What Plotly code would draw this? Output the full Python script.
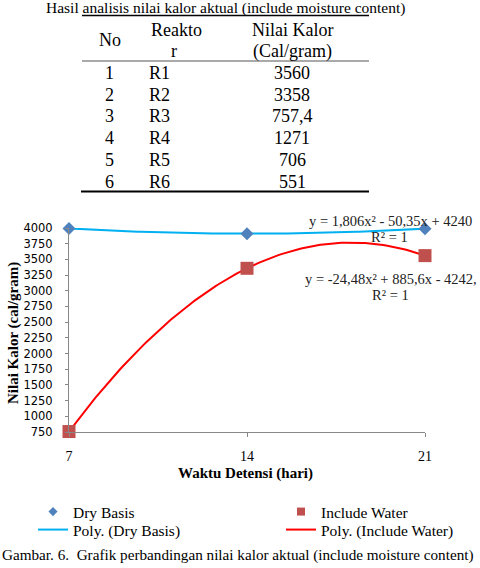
import numpy as np
import plotly.graph_objects as go

# ---------------- data ----------------
table_title = "Hasil analisis nilai kalor aktual (include moisture content)"
table_no = ["1", "2", "3", "4", "5", "6"]
table_reaktor = ["R1", "R2", "R3", "R4", "R5", "R6"]
table_nilai = ["3560", "3358", "757,4", "1271", "706", "551"]

waktu = [7, 14, 21]
dry_basis = [3993, 3910, 3990]
include_water = [757.4, 3358, 3560]

y_ticks = list(range(750, 4001, 250))
x_ticks = [7, 14, 21]

eq_dry = ["y = 1,806x² - 50,35x + 4240", "R² = 1"]
eq_water = ["y = -24,48x² + 885,6x - 4242,", "R² = 1"]
caption = "Gambar. 6.  Grafik perbandingan nilai kalor aktual (include moisture content)"

# ---------------- layout geometry ----------------
W, H = 480, 568
L, R, T, B = 69, 55, 228, 136
PW, PH = W - L - R, H - T - B


def px(x):
    return (x - L) / PW


def py(y):
    return (H - B - y) / PH


SERIF = "Liberation Serif, Times New Roman, serif"
BLUE_M = "#4F81BD"
RED_M = "#C0504D"
BLUE_L = "#00B0F0"
RED_L = "#FF0000"

fig = go.Figure()

# trendlines (2nd order polynomial fit of data)
xs = np.linspace(min(waktu), max(waktu), 120)
c_dry = np.polyfit(waktu, dry_basis, 2)
c_wat = np.polyfit(waktu, include_water, 2)
fig.add_trace(go.Scatter(x=xs, y=np.polyval(c_dry, xs), mode="lines",
                         line=dict(color=BLUE_L, width=2), showlegend=False,
                         hoverinfo="skip"))
fig.add_trace(go.Scatter(x=xs, y=np.polyval(c_wat, xs), mode="lines",
                         line=dict(color=RED_L, width=2), showlegend=False,
                         hoverinfo="skip"))
# data markers
fig.add_trace(go.Scatter(x=waktu, y=dry_basis, mode="markers", name="Dry Basis",
                         marker=dict(symbol="diamond", size=10, color=BLUE_M),
                         showlegend=False, cliponaxis=False))
fig.add_trace(go.Scatter(x=waktu, y=include_water, mode="markers", name="Include Water",
                         marker=dict(symbol="square", size=13, color=RED_M),
                         showlegend=False, cliponaxis=False))

# legend entries
fig.add_trace(go.Scatter(x=[None], y=[None], mode="markers", name="Dry Basis",
                         marker=dict(symbol="diamond", size=7, color=BLUE_M), legend="legend"))
fig.add_trace(go.Scatter(x=[None], y=[None], mode="lines", name="Poly. (Dry Basis)",
                         line=dict(color=BLUE_L, width=2), legend="legend2"))
fig.add_trace(go.Scatter(x=[None], y=[None], mode="markers", name="Include Water",
                         marker=dict(symbol="square", size=8, color=RED_M), legend="legend3"))
fig.add_trace(go.Scatter(x=[None], y=[None], mode="lines", name="Poly. (Include Water)",
                         line=dict(color=RED_L, width=2), legend="legend4"))

legend_common = dict(font=dict(family=SERIF, size=15.5, color="#000"),
                     bgcolor="rgba(0,0,0,0)", xref="container", yref="container",
                     xanchor="left", yanchor="top", tracegroupgap=0,
                     orientation="v")
fig.update_layout(
    legend=dict(x=33 / W, y=1 - 495 / H, **legend_common),
    legend2=dict(x=33 / W, y=1 - 513 / H, **legend_common),
    legend3=dict(x=281 / W, y=1 - 495 / H, **legend_common),
    legend4=dict(x=281 / W, y=1 - 513 / H, **legend_common),
)

annotations = []
# table title
annotations.append(dict(x=px(225), y=py(8), text=table_title, showarrow=False,
                        font=dict(family=SERIF, size=15.5, color="#000"),
                        xanchor="center", yanchor="middle"))
# header
hdr_font = dict(family=SERIF, size=18, color="#000")
annotations += [
    dict(x=px(110), y=py(40), text="No", font=hdr_font),
    dict(x=px(176), y=py(30), text="Reakto", font=hdr_font),
    dict(x=px(174), y=py(51), text="r", font=hdr_font),
    dict(x=px(292), y=py(30), text="Nilai Kalor", font=hdr_font),
    dict(x=px(292), y=py(51), text="(Cal/gram)", font=hdr_font),
]
row_y = [73, 95, 116.5, 138, 160, 181.5]
for i in range(len(table_no)):
    annotations.append(dict(x=px(109), y=py(row_y[i]), text=table_no[i], font=hdr_font))
    annotations.append(dict(x=px(147), y=py(row_y[i]), text=table_reaktor[i], font=hdr_font,
                            xanchor="left"))
    annotations.append(dict(x=px(292), y=py(row_y[i]), text=table_nilai[i], font=hdr_font))

# equations
eq_font = dict(family=SERIF, size=14.5, color="#222")
annotations += [
    dict(x=px(390), y=py(221), text=eq_dry[0], font=eq_font),
    dict(x=px(389), y=py(237), text=eq_dry[1], font=eq_font),
    dict(x=px(391), y=py(279), text=eq_water[0], font=eq_font),
    dict(x=px(390), y=py(295), text=eq_water[1], font=eq_font),
]
# axis titles
annotations += [
    dict(x=px(13), y=py(333), text="<b>Nilai Kalor (cal/gram)</b>", textangle=-90,
         font=dict(family=SERIF, size=15, color="#000")),
    dict(x=px(245), y=py(473), text="<b>Waktu Detensi (hari)</b>",
         font=dict(family=SERIF, size=15, color="#000")),
]
# caption
annotations.append(dict(x=px(0), y=py(555), text=caption, xanchor="left",
                        font=dict(family=SERIF, size=15.2, color="#000")))

for a in annotations:
    a.setdefault("showarrow", False)
    a.setdefault("xref", "paper")
    a.setdefault("yref", "paper")
    a.setdefault("xanchor", "center")
    a.setdefault("yanchor", "middle")

shapes = [
    dict(type="line", xref="paper", yref="paper", x0=px(82), x1=px(369), y0=py(15.5), y1=py(15.5),
         line=dict(color="#000", width=1.5)),
    dict(type="line", xref="paper", yref="paper", x0=px(82), x1=px(369), y0=py(61), y1=py(61),
         line=dict(color="#555", width=1)),
    dict(type="line", xref="paper", yref="paper", x0=px(81), x1=px(369), y0=py(191.5), y1=py(191.5),
         line=dict(color="#000", width=2)),
]

fig.update_layout(
    width=W, height=H,
    margin=dict(l=L, r=R, t=T, b=B, autoexpand=False),
    paper_bgcolor="white", plot_bgcolor="white",
    annotations=annotations, shapes=shapes,
    xaxis=dict(range=[7, 21], tickvals=x_ticks, ticktext=[str(v) for v in x_ticks],
               showgrid=False, zeroline=False, showline=True, linecolor="#888", linewidth=1,
               ticks="outside", ticklen=4, tickcolor="#888", ticklabelstandoff=7,
               tickfont=dict(family=SERIF, size=14, color="#000")),
    yaxis=dict(range=[750, 4000], tickvals=y_ticks, showgrid=False, zeroline=False,
               showline=True, linecolor="#888", linewidth=1, ticks="outside", ticklen=3,
               tickcolor="#888", ticklabelstandoff=10,
               tickfont=dict(family="DejaVu Sans", size=11.5, color="#000")),
    showlegend=True,
)

fig.write_html("out.html")
